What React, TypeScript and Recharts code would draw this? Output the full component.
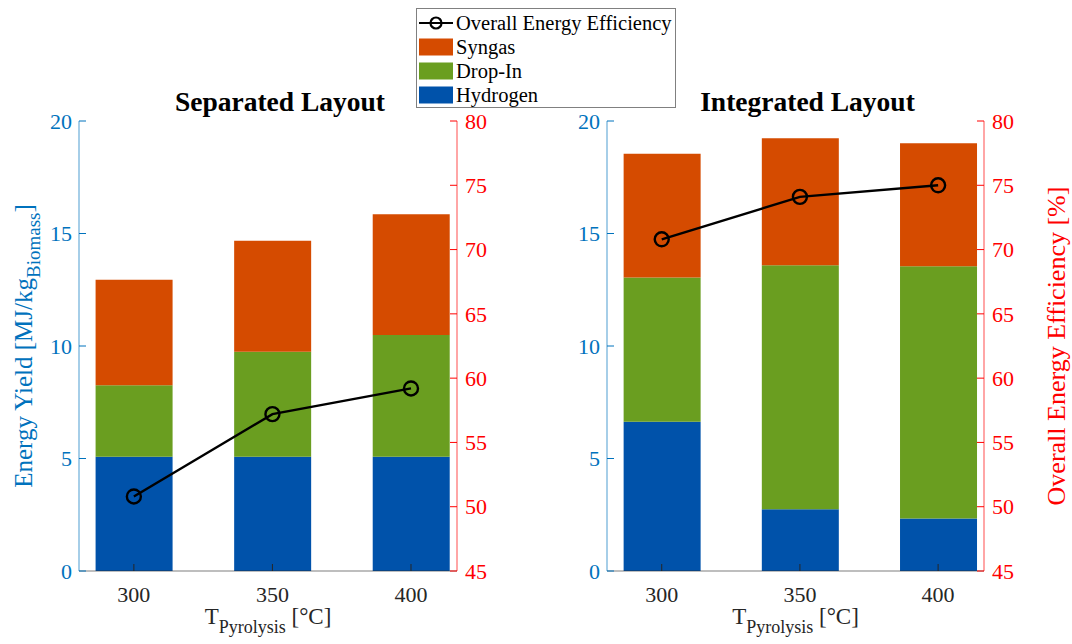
import { ComposedChart, Bar, Line, XAxis, YAxis, Legend, Label } from "recharts"

const temperatures = [300, 350, 400]
const yieldTicks = [0, 5, 10, 15, 20]
const effTicks = [45, 50, 55, 60, 65, 70, 75, 80]

// Separated layout
const sepHydrogen = [5.08, 5.08, 5.08]
const sepDropIn = [3.18, 4.66, 5.41]
const sepSyngas = [4.68, 4.94, 5.37]
const sepEfficiency = [50.8, 57.2, 59.2]

// Integrated layout
const intHydrogen = [6.63, 2.74, 2.33]
const intDropIn = [6.41, 10.85, 11.21]
const intSyngas = [5.5, 5.64, 5.47]
const intEfficiency = [70.8, 74.1, 75.0]

const legendOrder = ["efficiency", "syngas", "dropIn", "hydrogen"]

const FONT = "'Liberation Serif', 'Times New Roman', serif"
const BLUE_AXIS = "#0072BD"
const RED_AXIS = "#FF0000"
const GRAY_AXIS = "#262626"
const C_HYDROGEN = "#0052AA"
const C_DROPIN = "#6A9E20"
const C_SYNGAS = "#D54B00"
const X_DOMAIN = [280.2, 416.6]

const buildData = (h: number[], d: number[], s: number[], e: number[]) =>
  temperatures.map((t, i) => ({ t, hydrogen: h[i], dropIn: d[i], syngas: s[i], efficiency: e[i] }))

const sepData = buildData(sepHydrogen, sepDropIn, sepSyngas, sepEfficiency)
const intData = buildData(intHydrogen, intDropIn, intSyngas, intEfficiency)

const LeftTick = ({ x, y, payload }: any) => (
  <g>
    <line x1={x + 7} x2={x + 14} y1={y} y2={y} stroke={BLUE_AXIS} strokeWidth={1} />
    <text x={x} y={y} dy="0.35em" textAnchor="end" fill={BLUE_AXIS} fontSize={22} fontFamily={FONT} style={{ fontFamily: FONT }}>
      {payload.value}
    </text>
  </g>
)

const RightTick = ({ x, y, payload }: any) => (
  <g>
    <line x1={x - 8} x2={x - 15} y1={y} y2={y} stroke={RED_AXIS} strokeWidth={1} />
    <text x={x} y={y} dy="0.35em" textAnchor="start" fill={RED_AXIS} fontSize={22} fontFamily={FONT} style={{ fontFamily: FONT }}>
      {payload.value}
    </text>
  </g>
)

const BottomTick = ({ x, y, payload }: any) => (
  <g>
    <line x1={x} x2={x} y1={y - 23} y2={y - 30} stroke={GRAY_AXIS} strokeWidth={1} />
    <text x={x} y={y} dy="0.35em" textAnchor="middle" fill={GRAY_AXIS} fontSize={22} fontFamily={FONT} style={{ fontFamily: FONT }}>
      {payload.value}
    </text>
  </g>
)

const TopTick = ({ x, y }: any) => (
  <line x1={x} x2={x} y1={y} y2={y + 7} stroke={GRAY_AXIS} strokeWidth={1} />
)

const LegendBox = ({ payload }: any) => {
  const items = legendOrder
    .map((key) => (payload || []).find((p: any) => p.dataKey === key))
    .filter(Boolean)
  return (
    <div
      style={{
        width: 258,
        height: 96,
        border: "1px solid #808080",
        background: "#fff",
        boxSizing: "content-box",
        fontFamily: FONT,
        fontSize: 20.5,
        color: "#000",
        paddingTop: 2,
      }}
    >
      {items.map((item: any) => (
        <div key={item.dataKey} style={{ display: "flex", alignItems: "center", height: 24 }}>
          <svg width={39} height={24} style={{ flex: "none" }}>
            {item.dataKey === "efficiency" ? (
              <g>
                <line x1={2} x2={36} y1={12} y2={12} stroke="#000" strokeWidth={2.2} />
                <circle cx={19} cy={12} r={5.5} fill="none" stroke="#000" strokeWidth={2.2} />
              </g>
            ) : (
              <rect x={2} y={3.5} width={34} height={17} fill={item.color} />
            )}
          </svg>
          <span style={{ lineHeight: "24px", whiteSpace: "nowrap", fontFamily: FONT }}>{item.value}</span>
        </div>
      ))}
    </div>
  )
}

interface PanelProps {
  data: any[]
  left: number
  marginLeft: number
  marginRight: number
  title: string
  showYieldLabel?: boolean
  showEffLabel?: boolean
  showLegend?: boolean
}

function Panel({ data, left, marginLeft, marginRight, title, showYieldLabel, showEffLabel, showLegend }: PanelProps) {
  const plotCenter = marginLeft + 60 + (536 - marginLeft - marginRight - 110) / 2
  return (
    <div style={{ position: "absolute", left, top: 0, width: 536, height: 644, fontFamily: FONT }}>
      <div
        style={{
          position: "absolute",
          left: plotCenter + 12 - 170,
          width: 340,
          top: 88,
          textAlign: "center",
          fontFamily: FONT,
          fontWeight: "bold",
          fontSize: 27.5,
          lineHeight: "27px",
          color: "#000",
          zIndex: 2,
        }}
      >
        {title}
      </div>
      <ComposedChart
        width={536}
        height={644}
        data={data}
        margin={{ top: 121, right: marginRight, left: marginLeft, bottom: 33 }}
        style={{ fontFamily: FONT }}
      >
        <XAxis
          xAxisId="bottom"
          dataKey="t"
          type="number"
          domain={X_DOMAIN}
          allowDataOverflow
          ticks={temperatures}
          height={40}
          tickSize={0}
          tickMargin={23}
          tick={<BottomTick />}
          axisLine={{ stroke: GRAY_AXIS, strokeWidth: 0.6 }}
        >
          <Label
            content={({ viewBox }: any) => (
              <text
                x={viewBox.x + viewBox.width / 2}
                y={624}
                textAnchor="middle"
                fill={GRAY_AXIS}
                fontSize={23}
                fontFamily={FONT}
                style={{ fontFamily: FONT }}
              >
                <tspan>T</tspan>
                <tspan fontSize={18} dy={9}>Pyrolysis</tspan>
                <tspan dy={-9}> [°C]</tspan>
              </text>
            )}
          />
        </XAxis>
        <XAxis
          xAxisId="top"
          orientation="top"
          dataKey="t"
          type="number"
          domain={X_DOMAIN}
          allowDataOverflow
          ticks={temperatures}
          height={0}
          tickSize={0}
          tickMargin={0}
          tick={<TopTick />}
          axisLine={{ stroke: GRAY_AXIS, strokeWidth: 0.6 }}
        />
        <YAxis
          yAxisId="left"
          domain={[0, 20]}
          ticks={yieldTicks}
          width={60}
          tickSize={0}
          tickMargin={7}
          tick={<LeftTick />}
          axisLine={{ stroke: BLUE_AXIS, strokeWidth: 0.7 }}
        >
          {showYieldLabel && (
            <Label
              content={({ viewBox }: any) => {
                const cx = 32
                const cy = viewBox.y + viewBox.height / 2
                return (
                  <text
                    x={cx}
                    y={cy}
                    transform={`rotate(-90, ${cx}, ${cy})`}
                    textAnchor="middle"
                    fill={BLUE_AXIS}
                    fontSize={25}
                    fontFamily={FONT}
                    style={{ fontFamily: FONT }}
                  >
                    <tspan>Energy Yield [MJ/kg</tspan>
                    <tspan fontSize={19} dy={8}>Biomass</tspan>
                    <tspan dy={-8}>]</tspan>
                  </text>
                )
              }}
            />
          )}
        </YAxis>
        <YAxis
          yAxisId="right"
          orientation="right"
          domain={[45, 80]}
          ticks={effTicks}
          width={50}
          tickSize={0}
          tickMargin={8}
          tick={<RightTick />}
          axisLine={{ stroke: RED_AXIS, strokeWidth: 0.7 }}
        >
          {showEffLabel && (
            <Label
              content={({ viewBox }: any) => {
                const cx = viewBox.x + 81
                const cy = viewBox.y + viewBox.height / 2
                return (
                  <text
                    x={cx}
                    y={cy}
                    transform={`rotate(-90, ${cx}, ${cy})`}
                    textAnchor="middle"
                    fill={RED_AXIS}
                    fontSize={26}
                    fontFamily={FONT}
                    style={{ fontFamily: FONT }}
                  >
                    Overall Energy Efficiency [%]
                  </text>
                )
              }}
            />
          )}
        </YAxis>
        {showLegend && (
          <Legend
            layout="vertical"
            align="center"
            verticalAlign="middle"
            wrapperStyle={{ left: 416, top: 8, width: 260, height: 100 }}
            content={<LegendBox />}
          />
        )}
        <Bar xAxisId="bottom" yAxisId="left" dataKey="hydrogen" name="Hydrogen" stackId="a" fill={C_HYDROGEN} barSize={77} isAnimationActive={false} />
        <Bar xAxisId="bottom" yAxisId="left" dataKey="dropIn" name="Drop-In" stackId="a" fill={C_DROPIN} barSize={77} isAnimationActive={false} />
        <Bar xAxisId="bottom" yAxisId="left" dataKey="syngas" name="Syngas" stackId="a" fill={C_SYNGAS} barSize={77} isAnimationActive={false} />
        <Line
          xAxisId="bottom"
          yAxisId="right"
          type="linear"
          dataKey="efficiency"
          name="Overall Energy Efficiency"
          stroke="#000"
          strokeWidth={2.4}
          dot={{ r: 7, fill: "none", stroke: "#000", strokeWidth: 2.4 }}
          isAnimationActive={false}
        />
      </ComposedChart>
    </div>
  )
}

export default function App() {
  return (
    <div style={{ position: "absolute", left: 0, top: 0, width: 1072, height: 644, background: "#fff", fontFamily: FONT }}>
      <Panel data={sepData} left={0} marginLeft={19} marginRight={29} title="Separated Layout" showYieldLabel showLegend />
      <Panel data={intData} left={536} marginLeft={11} marginRight={38} title="Integrated Layout" showEffLabel />
    </div>
  )
}
